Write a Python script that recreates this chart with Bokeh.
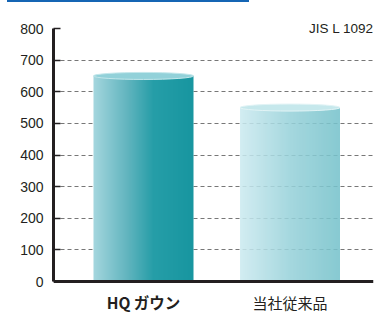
import numpy as np
from bokeh.plotting import figure
from bokeh.models import Range1d, FixedTicker, Span, Div
from bokeh.layouts import column
from bokeh.core.properties import value
from bokeh.embed import file_html
from bokeh.resources import INLINE

# ---- data ----
categories = ["HQ ガウン", "当社従来品"]
values = [650, 550]
y_ticks = [0, 100, 200, 300, 400, 500, 600, 700, 800]
grid_ticks = [100, 200, 300, 400, 500, 600, 700]
note = "JIS L 1092"

# ---- geometry (px mapping) ----
ppu = 253 / 800.0
fig_top = 2
fh = 313
y_end = 800 + (28 - fig_top) / ppu
y_start = -(fig_top + fh - 281) / ppu
ppx = 146.5
x_start = -(143 - 53) / ppx
x_end = 1 + (373 - 289.5) / ppx
bar_w = 100 / ppx

p = figure(width=383, height=fh,
           x_range=Range1d(x_start, x_end), y_range=Range1d(y_start, y_end),
           output_backend="svg", toolbar_location=None,
           min_border_left=53, min_border_right=10, min_border_top=0, min_border_bottom=0)
p.margin = 0
p.outline_line_color = None
p.xaxis.visible = False
p.xgrid.visible = False

ax = p.yaxis[0]
ax.ticker = FixedTicker(ticks=y_ticks)
ax.bounds = (0, 800)
ax.axis_line_width = 3
ax.axis_line_color = "#231f20"
ax.major_tick_in = 7
ax.major_tick_out = 0
ax.major_tick_line_width = 1.5
ax.major_tick_line_color = "#231f20"
ax.minor_tick_line_color = None
ax.major_label_standoff = 10
ax.major_label_text_font = "Liberation Sans"
ax.major_label_text_font_size = "14px"
ax.major_label_text_color = "#231f20"

g = p.ygrid[0]
g.ticker = FixedTicker(ticks=grid_ticks)
g.grid_line_dash = "4 3"
g.grid_line_color = "#777777"
g.grid_line_width = 1


def gradient(stops, n=100, alpha=255):
    pos = np.array([s[0] for s in stops])
    cols = np.array([s[1] for s in stops], dtype=float)
    t = np.linspace(0, 1, n)
    r = np.interp(t, pos, cols[:, 0])
    gg = np.interp(t, pos, cols[:, 1])
    b = np.interp(t, pos, cols[:, 2])
    img = np.zeros((1, n), dtype=np.uint32)
    view = img.view(dtype=np.uint8).reshape((1, n, 4))
    view[0, :, 0] = r.astype(np.uint8)
    view[0, :, 1] = gg.astype(np.uint8)
    view[0, :, 2] = b.astype(np.uint8)
    view[0, :, 3] = alpha
    return img

grad_hq = gradient([(0, (163, 214, 222)), (0.35, (95, 180, 190)),
                    (0.6, (38, 158, 168)), (1.0, (24, 150, 160))])
grad_old = gradient([(0, (204, 234, 240)), (0.5, (152, 210, 218)),
                     (1.0, (118, 194, 203))], alpha=222)

for i, (img, v) in enumerate([(grad_hq, values[0]), (grad_old, values[1])]):
    p.image_rgba(image=[img], x=i - bar_w / 2, y=0, dw=bar_w, dh=v)

cap_h = 7 / ppu
p.ellipse(x=[0], y=[values[0]], width=bar_w, height=cap_h,
          fill_color="#92d1d9", line_color="#c3e7eb", line_width=1)
p.ellipse(x=[1], y=[values[1]], width=bar_w, height=cap_h,
          fill_color="#c6e8ec", line_color="#e2f4f6", line_width=1)

p.add_layout(Span(location=0, dimension="width", line_color="#231f20", line_width=3))

p.text(x=[x_end], y=[y_ticks[-1]], text=[note], text_align="right",
       text_baseline="middle", text_font=value("Liberation Sans"),
       text_font_size="13.5px", text_color="#231f20")

lab_y = -20.5 / ppu
p.text(x=[0], y=[lab_y], text=[categories[0]], text_align="center",
       text_baseline="middle", text_font=value("Noto Sans CJK JP"),
       text_font_size="15.5px", text_font_style="bold", text_color="#231f20")
p.text(x=[1], y=[lab_y], text=[categories[1]], text_align="center",
       text_baseline="middle", text_font=value("Noto Sans CJK JP"),
       text_font_size="15px", text_color="#231f20")

div = Div(width=242, height=2, margin=(0, 0, 0, 7), styles={"background-color": "#1565b4"})
layout = column(div, p, spacing=0)
layout.margin = 0

open("out.html", "w").write(file_html(layout, INLINE))
